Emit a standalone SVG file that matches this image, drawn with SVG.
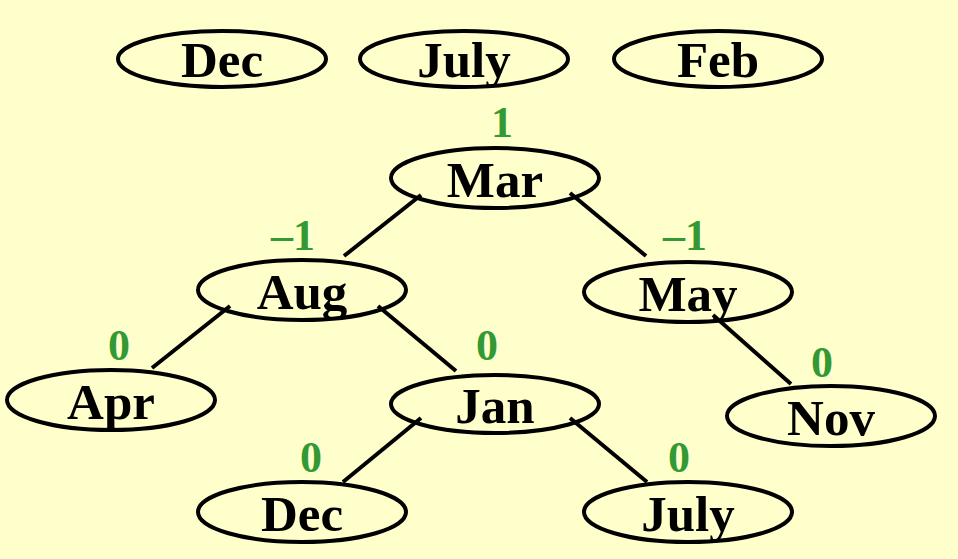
<svg xmlns="http://www.w3.org/2000/svg" width="958" height="559" viewBox="0 0 958 559">
<style>
.n{fill:none;stroke:#000;stroke-width:4}
.t{font-family:"Liberation Serif","Times New Roman",serif;font-weight:bold;font-size:51px;fill:#000;text-anchor:middle}
.b{font-family:"Liberation Serif","Times New Roman",serif;font-weight:bold;font-size:44px;fill:#339933;text-anchor:middle}
.e{stroke:#000;stroke-width:4;fill:none}
</style>
<rect width="958" height="559" fill="#FFFFCC"/>
<g id="connectors">
<line class="e" x1="421" y1="195" x2="344" y2="256"/>
<line class="e" x1="570" y1="193" x2="646" y2="256"/>
<line class="e" x1="230" y1="306" x2="152" y2="368"/>
<line class="e" x1="378" y1="306" x2="456" y2="371"/>
<line class="e" x1="713" y1="315" x2="791" y2="384"/>
<line class="e" x1="421" y1="418" x2="343" y2="482"/>
<line class="e" x1="570" y1="418" x2="647" y2="482"/>
</g>
<g id="top-dec"><ellipse class="n" cx="222" cy="59" rx="104" ry="28"/><text class="t" x="222" y="77">Dec</text></g>
<g id="top-july"><ellipse class="n" cx="464" cy="59" rx="104" ry="28"/><text class="t" x="464" y="77">July</text></g>
<g id="top-feb"><ellipse class="n" cx="718" cy="59" rx="104" ry="28"/><text class="t" x="718" y="77">Feb</text></g>
<g id="mar"><ellipse class="n" cx="495" cy="178" rx="104" ry="30"/><text class="t" x="495" y="197">Mar</text><text class="b" x="502" y="137">1</text></g>
<g id="aug"><ellipse class="n" cx="302" cy="290" rx="104" ry="30"/><text class="t" x="302" y="309">Aug</text><text class="b" x="293" y="250">–1</text></g>
<g id="may"><ellipse class="n" cx="688" cy="292" rx="104" ry="30"/><text class="t" x="688" y="311">May</text><text class="b" x="685" y="250">–1</text></g>
<g id="apr"><ellipse class="n" cx="111" cy="400" rx="104" ry="30"/><text class="t" x="111" y="419">Apr</text><text class="b" x="119" y="360">0</text></g>
<g id="jan"><ellipse class="n" cx="495" cy="404" rx="104" ry="29"/><text class="t" x="495" y="423">Jan</text><text class="b" x="487" y="360">0</text></g>
<g id="nov"><ellipse class="n" cx="831" cy="416" rx="104" ry="30"/><text class="t" x="831" y="435">Nov</text><text class="b" x="822" y="377">0</text></g>
<g id="dec"><ellipse class="n" cx="302" cy="512" rx="104" ry="30"/><text class="t" x="302" y="531">Dec</text><text class="b" x="311" y="472">0</text></g>
<g id="july"><ellipse class="n" cx="688" cy="512" rx="104" ry="30"/><text class="t" x="688" y="531">July</text><text class="b" x="679" y="472">0</text></g>
</svg>
